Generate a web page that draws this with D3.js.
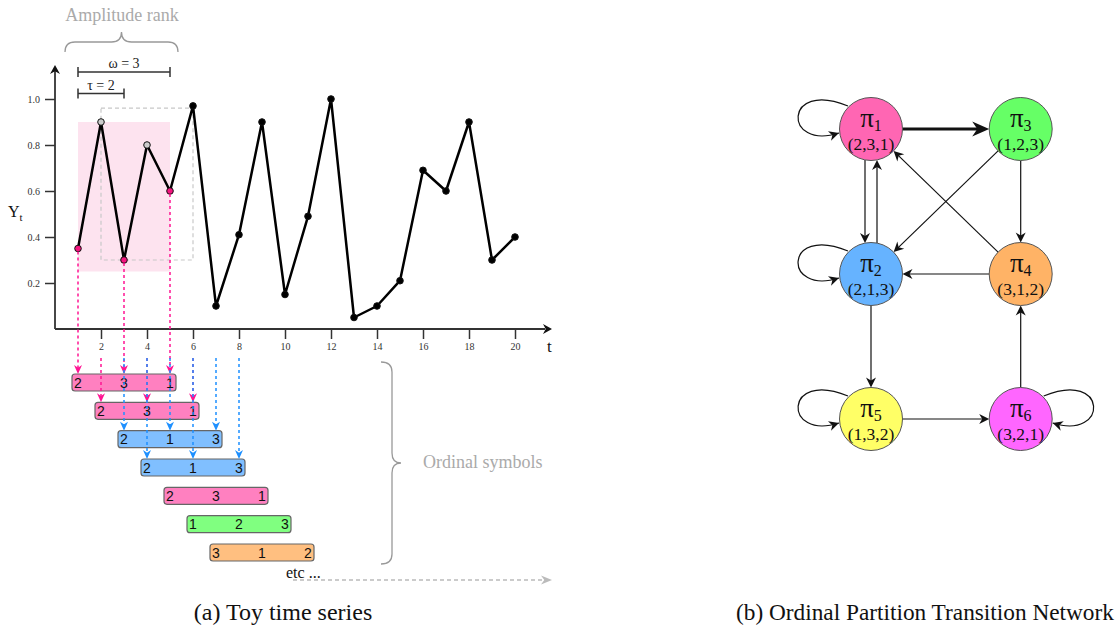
<!DOCTYPE html>
<html>
<head>
<meta charset="utf-8">
<script src="https://cdn.jsdelivr.net/npm/d3@7"></script>
<style>
  body { margin: 0; background: #fff; }
  svg { display: block; }
</style>
</head>
<body>
<div class="chart"></div>
<script>
// DATA ------------------------------------
const tValues = [1, 2, 3, 4, 5, 6, 7, 8, 9, 10, 11, 12, 13, 14, 15, 16, 17, 18, 19, 20];
const yValues = [0.35, 0.9, 0.3, 0.8, 0.6, 0.97, 0.1, 0.41, 0.9, 0.15,
                 0.49, 1.0, 0.05, 0.1, 0.21, 0.69, 0.6, 0.9, 0.3, 0.4];
const xTicks = [2, 4, 6, 8, 10, 12, 14, 16, 18, 20];
const yTicks = [0.2, 0.4, 0.6, 0.8, 1.0];

// first embedding window (tau = 2, omega = 3) and the skipped points
const windowTimes = [1, 3, 5];
const skippedTimes = [2, 4];
const shadeBox = [0.25, 0.9];   // value range of the pink window
const dashBox = [0.3, 0.96];    // value range of the next (dashed) window

// ordinal symbols, one row per window start
const symbolStart = [1, 2, 3, 4, 5, 6, 7];
const symbolRanks = [[2, 3, 1], [2, 3, 1], [2, 1, 3], [2, 1, 3], [2, 3, 1], [1, 2, 3], [3, 1, 2]];
const arrowRows = 4;

// network
const nodeIndex = [1, 2, 3, 4, 5, 6];
const nodePattern = ['(2,3,1)', '(2,1,3)', '(1,2,3)', '(3,1,2)', '(1,3,2)', '(3,2,1)'];
const nodeCol = ['left', 'left', 'right', 'right', 'left', 'right'];
const nodeRow = ['top', 'middle', 'top', 'middle', 'bottom', 'bottom'];
const edgeFrom = [1, 1, 1, 2, 2, 2, 3, 3, 4, 4, 5, 5, 6, 6];
const edgeTo = [1, 3, 2, 2, 1, 5, 2, 4, 1, 2, 5, 6, 6, 4];
const edgeWeight = [1, 3, 1, 1, 1, 1, 1, 1, 1, 1, 1, 1, 1, 1];

// STYLES ----------------------------------
const barColour = { '2,3,1': '#ff80c0', '2,1,3': '#80bfff', '1,2,3': '#80ff80', '3,1,2': '#ffbf80' };
const arrowColour = { '2,3,1': '#ff1493', '2,1,3': '#1e90ff' };
const nodeColour = ['#ff66b3', '#66b3ff', '#66ff66', '#ffb366', '#ffff66', '#ff66ff'];
const serif = '"Liberation Serif", "Times New Roman", serif';
const sans = '"Liberation Sans", Arial, sans-serif';

// CHART INIT ------------------------------
const svg = d3
  .select('.chart')
  .append('svg')
  .attr('width', 1117)
  .attr('height', 629);

function arrowHead(g, x, y, angle, len, wid, colour) {
  const p = [[0, 0], [-len, -wid / 2], [-len * 0.7, 0], [-len, wid / 2]];
  g.append('path')
    .attr('d', 'M' + p.join('L') + 'Z')
    .attr('transform', 'translate(' + x + ',' + y + ') rotate(' + (angle * 180 / Math.PI) + ')')
    .attr('fill', colour);
}

// scales
const xScale = d3.scaleLinear().domain([0, 20]).range([55, 515]);
const yScale = d3.scaleLinear().domain([0, 1]).range([329, 99]);
const rowScale = d3.scaleLinear().domain([0, 6]).range([374, 544]);

const left = svg.append('g').attr('class', 'series');

// pink window + dashed next window
left.append('rect')
  .attr('x', xScale(windowTimes[0]))
  .attr('y', yScale(shadeBox[1]))
  .attr('width', xScale(windowTimes[2]) - xScale(windowTimes[0]))
  .attr('height', yScale(shadeBox[0]) - yScale(shadeBox[1]))
  .attr('fill', '#fde3ef');

left.append('rect')
  .attr('x', xScale(skippedTimes[0]))
  .attr('y', yScale(dashBox[1]))
  .attr('width', xScale(skippedTimes[0] + 4) - xScale(skippedTimes[0]))
  .attr('height', yScale(dashBox[0]) - yScale(dashBox[1]))
  .attr('fill', 'none')
  .attr('stroke', '#c8c8c8')
  .attr('stroke-width', 1.2)
  .attr('stroke-dasharray', '4,3');

// axes
const xAxis = d3.axisBottom(xScale).tickValues(xTicks).tickSize(10).tickPadding(4);
const yAxis = d3.axisLeft(yScale).tickValues(yTicks).tickSize(10).tickPadding(5).tickFormat(d3.format('.1f'));

const xAxisGroup = left.append('g').attr('transform', 'translate(0,329)').call(xAxis);
const yAxisGroup = left.append('g').attr('transform', 'translate(55,0)').call(yAxis);
[xAxisGroup, yAxisGroup].forEach((g) => {
  g.select('.domain').remove();
  g.selectAll('line').attr('stroke', '#333').attr('stroke-width', 1.5);
  g.selectAll('text').attr('font-family', serif).attr('font-size', 10).attr('fill', '#333');
});

left.append('line').attr('x1', 55).attr('y1', 329).attr('x2', 55).attr('y2', 71)
  .attr('stroke', '#333').attr('stroke-width', 1.8);
arrowHead(left, 55, 65, -Math.PI / 2, 9, 10, '#111');
left.append('line').attr('x1', 55).attr('y1', 329).attr('x2', 545).attr('y2', 329)
  .attr('stroke', '#333').attr('stroke-width', 1.8);
arrowHead(left, 552, 329, 0, 9, 10, '#111');

left.append('text').attr('x', 8).attr('y', 217)
  .attr('font-family', serif).attr('font-size', 16).attr('fill', '#111')
  .text('Y').append('tspan').attr('dy', 4).attr('font-size', 11).text('t');
left.append('text').attr('x', 547).attr('y', 352)
  .attr('font-family', serif).attr('font-size', 17).attr('fill', '#111').text('t');

// series line and points
const series = tValues.map((t, i) => ({ t: t, v: yValues[i] }));
const line = d3.line().x((d) => xScale(d.t)).y((d) => yScale(d.v));

left.append('path')
  .datum(series)
  .attr('d', line)
  .attr('fill', 'none')
  .attr('stroke', '#000')
  .attr('stroke-width', 2.5)
  .attr('stroke-linejoin', 'round');

left.selectAll('.pt')
  .data(series)
  .enter()
  .append('circle')
  .attr('class', 'pt')
  .attr('cx', (d) => xScale(d.t))
  .attr('cy', (d) => yScale(d.v))
  .attr('r', 3.3)
  .attr('fill', (d) => (windowTimes.includes(d.t) ? '#f5157f' : skippedTimes.includes(d.t) ? '#cccccc' : '#000'))
  .attr('stroke', '#111')
  .attr('stroke-width', 1);

// tau / omega brackets
function bracket(t0, t1, y, label, ly) {
  left.append('path')
    .attr('d', 'M' + xScale(t0) + ',' + (y - 5) + 'V' + (y + 5) + 'M' + xScale(t0) + ',' + y +
      'H' + xScale(t1) + 'M' + xScale(t1) + ',' + (y - 5) + 'V' + (y + 5))
    .attr('fill', 'none').attr('stroke', '#333').attr('stroke-width', 1.5);
  left.append('text')
    .attr('x', (xScale(t0) + xScale(t1)) / 2).attr('y', ly)
    .attr('text-anchor', 'middle').attr('font-family', serif).attr('font-size', 14).attr('fill', '#222')
    .text(label);
}
bracket(1, 5, 72, 'ω = 3', 68);
bracket(1, 3, 93.5, 'τ = 2', 89.5);

// amplitude rank brace
left.append('path')
  .attr('d', 'M65,52 Q65,42 75,42 L111.5,42 Q121.5,42 121.5,32 Q121.5,42 131.5,42 L168,42 Q178,42 178,52')
  .attr('fill', 'none').attr('stroke', '#999').attr('stroke-width', 1.3);
left.append('text').attr('x', 122).attr('y', 21)
  .attr('text-anchor', 'middle').attr('font-family', serif).attr('font-size', 18).attr('fill', '#aaa')
  .text('Amplitude rank');

// ordinal symbol bars
const symbols = symbolStart.map((s, i) => ({ row: i, start: s, ranks: symbolRanks[i], key: symbolRanks[i].join(',') }));
const bars = left.selectAll('.sym').data(symbols).enter().append('g').attr('class', 'sym');

bars.append('rect')
  .attr('x', (d) => xScale(d.start) - 6)
  .attr('y', (d) => rowScale(d.row))
  .attr('width', (d) => xScale(d.start + 4) - xScale(d.start) + 12)
  .attr('height', 17)
  .attr('rx', 3)
  .attr('fill', (d) => barColour[d.key])
  .attr('stroke', '#666')
  .attr('stroke-width', 1.2);

bars.each(function (d) {
  d3.select(this).selectAll('text')
    .data(d.ranks)
    .enter()
    .append('text')
    .attr('x', (r, k) => xScale(d.start + 2 * k))
    .attr('y', rowScale(d.row) + 8.5)
    .attr('dy', '0.36em')
    .attr('text-anchor', 'middle')
    .attr('font-family', sans)
    .attr('font-size', 14)
    .attr('fill', '#111')
    .text((r) => r);
});

// dashed arrows from the series to the symbols
const arrows = left.append('g').attr('class', 'arrows');
symbols.slice(0, arrowRows).forEach((d) => {
  const colour = arrowColour[d.key];
  [0, 2, 4].forEach((k) => {
    const tt = d.start + k;
    const x = xScale(tt);
    const y0 = d.row === 0 ? yScale(yValues[tValues.indexOf(tt)]) + 3 : 358;
    const y1 = rowScale(d.row);
    arrows.append('line')
      .attr('x1', x).attr('y1', y0).attr('x2', x).attr('y2', y1 - 5)
      .attr('stroke', colour).attr('stroke-width', 1.5).attr('stroke-dasharray', '3,3');
    arrowHead(arrows, x, y1, Math.PI / 2, 9, 8, colour);
  });
});

// ordinal symbols brace + etc
left.append('path')
  .attr('d', 'M381,362 Q392,362 392,372 L392,453 Q392,463 401,463 Q392,463 392,473 L392,554 Q392,564 381,564')
  .attr('fill', 'none').attr('stroke', '#999').attr('stroke-width', 1.3);
left.append('text').attr('x', 423).attr('y', 468)
  .attr('font-family', serif).attr('font-size', 18).attr('fill', '#aaa')
  .text('Ordinal symbols');
left.append('text').attr('x', 286).attr('y', 578)
  .attr('font-family', serif).attr('font-size', 16).attr('fill', '#111')
  .text('etc ...');
left.append('line').attr('x1', 293).attr('y1', 580).attr('x2', 543).attr('y2', 580)
  .attr('stroke', '#bbb').attr('stroke-width', 1.3).attr('stroke-dasharray', '4,3');
arrowHead(left, 552, 580, 0, 11, 9, '#bbb');

// NETWORK ---------------------------------
const colScale = d3.scalePoint().domain(['left', 'right']).range([871, 1020.7]);
const rowPos = d3.scalePoint().domain(['top', 'middle', 'bottom']).range([129, 419]);
const R = 31.5;

const nodes = nodeIndex.map((n, i) => ({
  id: n, pattern: nodePattern[i], col: nodeCol[i],
  x: colScale(nodeCol[i]), y: rowPos(nodeRow[i]), colour: nodeColour[i]
}));
const byId = new Map(nodes.map((n) => [n.id, n]));
const edges = edgeFrom.map((s, i) => ({ s: s, t: edgeTo[i], w: edgeWeight[i] }));

const net = svg.append('g').attr('class', 'network');

edges.forEach((e) => {
  const a = byId.get(e.s);
  const b = byId.get(e.t);
  if (e.s === e.t) {
    // self loop on the outer side of the node
    const side = a.col === 'left' ? -1 : 1;
    const p0 = [a.x + side * 23, a.y - 23];
    const c1 = [a.x + side * 88, a.y - 50];
    const c2 = [a.x + side * 88, a.y + 22];
    const p3 = [a.x + side * 32, a.y + 4];
    net.append('path')
      .attr('d', 'M' + p0 + 'C' + c1 + ' ' + c2 + ' ' + p3)
      .attr('fill', 'none').attr('stroke', '#111').attr('stroke-width', 1.2);
    arrowHead(net, p3[0], p3[1], Math.atan2(p3[1] - c2[1], p3[0] - c2[0]), 10, 10, '#111');
    return;
  }
  const dx = b.x - a.x;
  const dy = b.y - a.y;
  const len = Math.hypot(dx, dy);
  const ux = dx / len;
  const uy = dy / len;
  const twoWay = edges.some((f) => f.s === e.t && f.t === e.s);
  const off = twoWay ? 6 : 0;
  const ox = -uy * off;
  const oy = ux * off;
  const along = Math.sqrt(R * R - off * off);
  const x0 = a.x + ox + ux * along;
  const y0 = a.y + oy + uy * along;
  const x1 = b.x + ox - ux * along;
  const y1 = b.y + oy - uy * along;
  const head = e.w > 1 ? 17 : 10;
  net.append('line')
    .attr('x1', x0).attr('y1', y0)
    .attr('x2', x1 - ux * head * 0.6).attr('y2', y1 - uy * head * 0.6)
    .attr('stroke', '#111').attr('stroke-width', e.w > 1 ? 3 : 1.2);
  arrowHead(net, x1, y1, Math.atan2(uy, ux), head, e.w > 1 ? 15 : 10, '#111');
});

const nodeG = net.selectAll('.node').data(nodes).enter().append('g').attr('class', 'node');
nodeG.append('circle')
  .attr('cx', (d) => d.x).attr('cy', (d) => d.y).attr('r', R)
  .attr('fill', (d) => d.colour).attr('stroke', '#555').attr('stroke-width', 1);
const lab = nodeG.append('text')
  .attr('x', (d) => d.x).attr('y', (d) => d.y - 2)
  .attr('text-anchor', 'middle').attr('font-family', serif).attr('font-size', 27).attr('fill', '#111');
lab.append('tspan').text('π');
lab.append('tspan').attr('dy', 4).attr('font-size', 16).text((d) => d.id);
nodeG.append('text')
  .attr('x', (d) => d.x).attr('y', (d) => d.y + 21)
  .attr('text-anchor', 'middle').attr('font-family', serif).attr('font-size', 17.5).attr('fill', '#111')
  .text((d) => d.pattern);

// CAPTIONS --------------------------------
svg.append('text').attr('x', 283).attr('y', 620)
  .attr('text-anchor', 'middle').attr('font-family', serif).attr('font-size', 24).attr('fill', '#111')
  .text('(a) Toy time series');
svg.append('text').attr('x', 736).attr('y', 620)
  .attr('font-family', serif).attr('font-size', 23.3).attr('fill', '#111')
  .text('(b) Ordinal Partition Transition Network');
</script>
</body>
</html>
